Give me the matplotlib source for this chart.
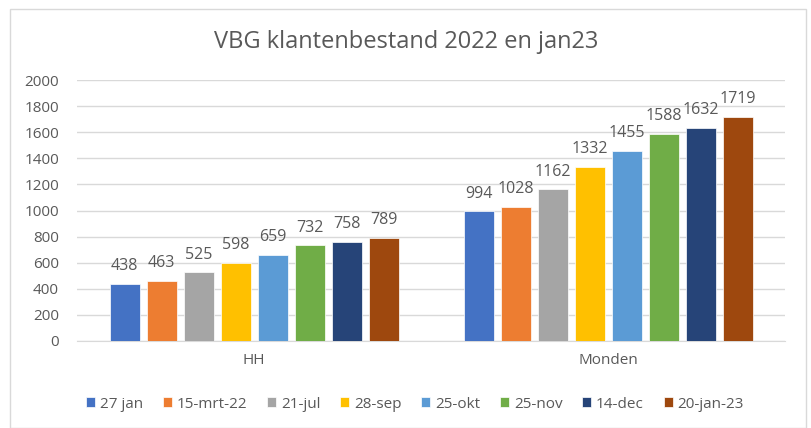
import matplotlib
matplotlib.use("Agg")
import matplotlib.pyplot as plt
from matplotlib.patches import Rectangle
import numpy as np

categories = ["HH", "Monden"]
series_names = ["27 jan", "15-mrt-22", "21-jul", "28-sep", "25-okt", "25-nov", "14-dec", "20-jan-23"]
hh_values = [438, 463, 525, 598, 659, 732, 758, 789]
monden_values = [994, 1028, 1162, 1332, 1455, 1588, 1632, 1719]
colors = ["#4472C4", "#ED7D31", "#A5A5A5", "#FFC000", "#5B9BD5", "#70AD47", "#264478", "#9E480E"]
yticks = [0, 200, 400, 600, 800, 1000, 1200, 1400, 1600, 1800, 2000]
title = "VBG klantenbestand 2022 en jan23"

plt.rcParams['font.family'] = ['Open Sans', 'DejaVu Sans']
txt = "#595959"

fig = plt.figure(figsize=(8.12, 4.28), dpi=100)
fig.patches.append(Rectangle((10/812, 0.5/428), 796/812, 419/428, transform=fig.transFigure,
                             fill=False, edgecolor="#D9D9D9", linewidth=1))
ax = fig.add_axes([77/812, 87/428, 708/812, 261/428])

x = np.arange(len(categories))
w = 30/354
step = 37/354
n = len(series_names)
for i, name in enumerate(series_names):
    vals = [hh_values[i], monden_values[i]]
    pos = x + (i - (n - 1) / 2) * step
    ax.bar(pos, vals, width=w, color=colors[i], label=name, zorder=3,
           edgecolor="white", linewidth=0.5)
    for p, v in zip(pos, vals):
        ax.annotate(str(v), (p, v), xytext=(0, 7), textcoords="offset points",
                    ha="center", va="bottom", fontsize=11.5, color=txt)

ax.set_xlim(-0.5, 1.5)
ax.set_ylim(0, 2000)
ax.set_yticks(yticks)
ax.set_yticklabels([str(t) for t in yticks])
ax.set_xticks(x)
ax.set_xticklabels(categories)
ax.grid(axis="y", color="#D9D9D9", linewidth=1, zorder=0)
for s in ["top", "right", "left"]:
    ax.spines[s].set_visible(False)
ax.spines["bottom"].set_color("#D9D9D9")
ax.tick_params(axis="both", length=0, colors=txt, labelsize=11)
ax.tick_params(axis="y", pad=13)
ax.tick_params(axis="x", pad=9)

fig.text(0.5, 1 - 42/428, title, ha="center", va="center", fontsize=17, color=txt)

fig.legend(loc="center", bbox_to_anchor=(415/812, 1 - 404/428), ncol=8, frameon=False,
           fontsize=11, handlelength=0.6, handleheight=0.6, handletextpad=0.3,
           columnspacing=1.3, labelcolor=txt)

fig.savefig("out.png", dpi=100)
